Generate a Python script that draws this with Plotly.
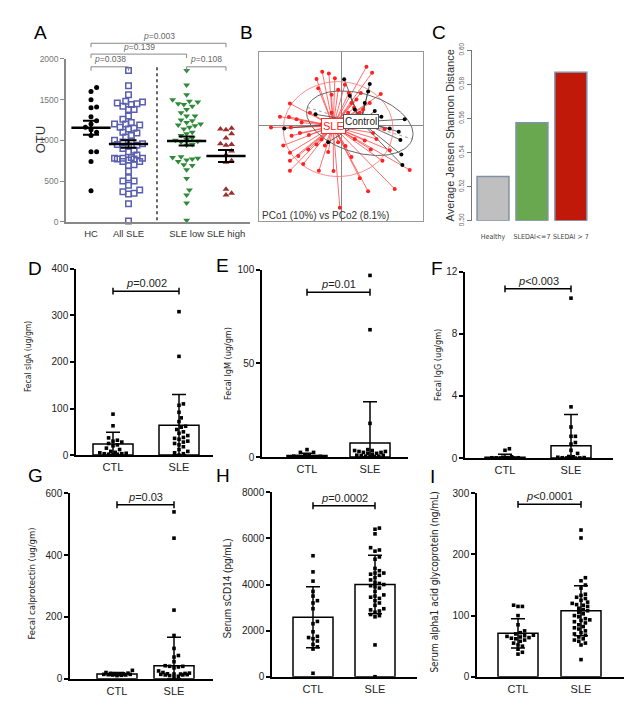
import numpy as np
import plotly.graph_objects as go

W, H = 636, 719
FONT = "Liberation Sans, Arial, Helvetica, sans-serif"
NARROW = "Liberation Sans Narrow, Arial Narrow, DejaVu Sans Condensed, sans-serif"

# ---------------- Panel A : OTU ----------------
a_labels = ["HC", "All SLE", "SLE low", "SLE high"]
a_hc = [1650, 1600, 1500, 1410, 1400, 1290, 1240, 1200, 1160, 1130, 1100, 1060, 860, 860, 740, 380]
a_all_sle = [1860, 1670, 1560, 1480, 1470, 1460, 1450, 1440, 1420, 1380, 1380, 1300, 1260, 1220,
             1200, 1200, 1190, 1160, 1150, 1140, 1100, 1090, 1060, 1040, 1000, 990, 980, 960, 950,
             940, 930, 900, 880, 860, 820, 790, 780, 780, 780, 770, 770, 760, 740, 740, 700, 690,
             620, 540, 500, 500, 450, 390, 370, 350, 340, 220, 10]
a_sle_low = [1860, 1680, 1560, 1500, 1480, 1470, 1450, 1440, 1420, 1380, 1340, 1300, 1300, 1250,
             1240, 1220, 1200, 1190, 1180, 1160, 1140, 1100, 1080, 1060, 1030, 1010, 1000, 990, 980,
             950, 940, 800, 790, 780, 770, 760, 740, 700, 690, 640, 530, 390, 330, 230, 20]
a_sle_high = [1150, 1140, 1130, 1080, 1030, 960, 950, 940, 870, 820, 750, 730, 400, 350, 330]
a_mean = [1155, 955, 992, 808]
a_sem = [85, 45, 55, 75]
a_p_pairs = [(0, 1), (2, 3), (0, 2), (0, 3)]
a_p_text = ["0.038", "0.108", "0.139", "0.003"]
a_p_level = [1904, 1904, 2060, 2193]

# ---------------- Panel B : PCoA ----------------
b_sle_pc1 = [0.075, 0.092, -0.058, -0.038, -0.075, -0.020, 0.118, -0.030, -0.070, -0.155, -0.185,
             -0.158, -0.135, -0.212, -0.152, -0.150, -0.125, -0.098, -0.155, -0.155, -0.130, -0.100,
             -0.075, -0.060, -0.115, -0.155, -0.068, -0.024, -0.005, 0.055, 0.080, 0.160, 0.123,
             0.145, 0.205, 0.088, 0.095, 0.130, 0.038, 0.030, 0.045, 0.020, 0.065, 0.085, -0.010,
             0.012, -0.040, -0.050, 0.040, 0.070, -0.095, -0.010, 0.022, 0.095, 0.010, 0.058,
             -0.030, -0.120, -0.175, 0.030, 0.105, -0.060, 0.055]
b_sle_pc2 = [0.178, 0.160, 0.163, 0.158, 0.141, 0.143, 0.095, 0.093, 0.113, 0.066, 0.026, 0.025,
             0.018, -0.007, -0.007, -0.032, -0.024, -0.030, -0.084, -0.109, -0.094, -0.074, -0.059,
             -0.044, -0.119, -0.139, -0.139, -0.140, -0.252, -0.162, -0.202, -0.195, -0.109, -0.077,
             -0.137, -0.074, -0.024, -0.012, 0.053, 0.068, 0.078, 0.038, 0.048, 0.068, -0.052,
             -0.064, -0.082, -0.062, -0.042, -0.047, 0.038, 0.108, 0.098, 0.013, 0.123, 0.098,
             0.038, 0.008, -0.062, -0.097, -0.042, 0.003, 0.038]
b_ctl_pc1 = [0.008, 0.025, 0.085, 0.080, 0.100, 0.120, 0.190, 0.145, 0.172, 0.177, 0.180, 0.183,
             -0.078, -0.172, -0.040, 0.040, 0.070]
b_ctl_pc2 = [0.140, 0.090, 0.126, 0.103, 0.043, 0.026, 0.018, -0.010, -0.020, -0.045, -0.090,
             -0.122, 0.033, -0.010, -0.052, 0.048, 0.068]
b_sle_centroid = (-0.025, -0.003)
b_ctl_centroid = (0.058, 0.010)
b_sle_ellipse = (-0.010, -0.012, 0.165, 0.145, 0.0)     # cx, cy, a, b, angle(deg)
b_ctl_ellipse = (0.055, 0.006, 0.165, 0.090, -17.0)
b_caption = "PCo1 (10%) vs PCo2 (8.1%)"

# ---------------- Panel C : JSD ----------------
c_labels = ["Healthy", "SLEDAI&lt;=7", "SLEDAI &gt; 7"]
c_values = [0.526, 0.5575, 0.587]

# ---------------- Panels D-I ----------------
grp_labels = ["CTL", "SLE"]
d_ctl = [88, 63, 37, 32, 30, 28, 25, 22, 20, 15, 12, 8, 6, 5, 4, 3, 3, 2, 2, 1]
d_sle = [308, 212, 110, 107, 92, 80, 72, 62, 60, 55, 50, 47, 42, 38, 36, 34, 30, 28, 25, 22, 18,
         12, 8, 5, 3, 0]
d_mean, d_sd = [24, 64], [25, 66]
e_ctl = [4, 2.5, 2.5, 1.2, 0.8, 0.5, 0.4, 0.3, 0.2, 0.2, 0.1, 0.1]
e_sle = [97, 68, 18, 4, 3.5, 3.5, 3, 3, 2.5, 2.5, 2, 2, 1.5, 1, 1, 0.8, 0.5, 0.5, 0.3, 0.2]
e_mean, e_sd = [0.8, 7.5], [1.3, 22]
f_ctl = [0.6, 0.5, 0.08, 0.05, 0.03, 0.02, 0.02, 0.01, 0.01, 0, 0, 0]
f_sle = [10.3, 3.3, 2.0, 1.4, 1.4, 1.0, 0.9, 0.5, 0.3, 0.1, 0.08, 0.05, 0.03, 0.02, 0.01, 0.01, 0, 0]
f_mean, f_sd = [0.05, 0.8], [0.2, 2.0]
g_ctl = [27, 20, 18, 17, 16, 16, 15, 14, 14, 13, 12, 12, 11, 10]
g_sle = [540, 455, 222, 140, 98, 75, 70, 55, 42, 40, 40, 38, 35, 25, 20, 18, 17, 16, 15, 15, 14,
         13, 12, 12, 10, 8, 5]
g_mean, g_sd = [15, 42], [5, 92]
h_ctl = [5250, 4550, 4150, 3700, 3500, 3300, 3200, 2950, 2400, 2300, 1950, 1750, 1700, 1650, 1550,
         1400, 1300, 1200, 150]
h_sle = [6450, 6400, 6200, 5600, 5500, 5450, 5200, 5100, 4700, 4600, 4500, 4500, 4450, 4400, 4300,
         4200, 4100, 4050, 4000, 3950, 3900, 3850, 3700, 3550, 3500, 3450, 3400, 3300, 3200, 3100,
         2950, 2900, 2850, 2800, 2700, 2650, 2600, 1380, 0]
h_mean, h_sd = [2580, 4000], [1320, 1270]
i_ctl = [117, 115, 115, 100, 85, 75, 72, 70, 68, 67, 66, 65, 64, 63, 62, 60, 58, 55, 52, 50, 45, 40, 37]
i_sle = [240, 227, 162, 157, 150, 145, 135, 133, 130, 128, 125, 122, 120, 118, 117, 115, 112, 110,
         108, 105, 103, 100, 98, 95, 93, 92, 90, 88, 85, 82, 80, 78, 75, 72, 70, 68, 65, 62, 60, 58,
         55, 52, 28]
i_mean, i_sd = [71, 108], [24, 41]
p_texts = {"D": "<i>p</i>=0.002", "E": "<i>p</i>=0.01", "F": "<i>p</i>&lt;0.003",
           "G": "<i>p</i>=0.03", "H": "<i>p</i>=0.0002", "I": "<i>p</i>&lt;0.0001"}
p_levels = {"D": 352, "E": 88, "F": 10.9, "G": 563, "H": 7420, "I": 282}
y_titles = {"D": "Fecal sIgA (ug/gm)", "E": "Fecal IgM (ug/gm)", "F": "Fecal IgG (ug/gm)",
            "G": "Fecal calprotectin (ug/gm)", "H": "Serum sCD14 (pg/mL)",
            "I": "Serum alpha1 acid glycoprotein (ng/mL)"}


# ---------------- helpers ----------------
def dom_x(x0, x1):
    return [x0 / W, x1 / W]


def dom_y(top, bot):
    return [1 - bot / H, 1 - top / H]


def swarm(vals, center, ppu_x, ppu_y, d, maxw):
    vals = np.asarray(vals, float)
    order = np.argsort(vals)
    placed = []
    out = np.zeros(len(vals))
    steps = [0.0]
    k = 1
    while k * d * 0.5 <= maxw:
        steps += [k * d * 0.5, -k * d * 0.5]
        k += 1
    for i in order:
        yp = vals[i] * ppu_y
        chosen, best, best_s = None, -1.0, 0.0
        for s in steps:
            mind = min([np.hypot(s - px, yp - py) for px, py in placed] or [1e9])
            if mind >= d * 0.98:
                chosen = s
                break
            if mind > best:
                best, best_s = mind, s
        if chosen is None:
            chosen = best_s
        placed.append((chosen, yp))
        out[i] = center + chosen / ppu_x
    return out


def ax(n):
    return ("x" if n == 1 else f"x{n}"), ("y" if n == 1 else f"y{n}")


def lkey(n):
    return ("xaxis" if n == 1 else f"xaxis{n}"), ("yaxis" if n == 1 else f"yaxis{n}")


def pnote(px, py, text, size, color, family=FONT, angle=0, xa="center", ya="middle"):
    return dict(x=px / W, y=1 - py / H, xref="paper", yref="paper", text=text, textangle=angle,
                showarrow=False, xanchor=xa, yanchor=ya,
                font=dict(size=size, color=color, family=family))


fig = go.Figure()
layout = {}
shapes = []
annots = []

# ================= Panel A =================
A_X0, A_X1, A_TOP, A_BOT = 66, 250, 52, 218
a_pos = [0, 1, 2.55, 3.6]
a_ppx = 37.5
a_c0 = 91
a_xr = [-(a_c0 - A_X0) / a_ppx, (A_X1 - a_c0) / a_ppx]
a_ppy = (A_BOT - A_TOP) / 2000.0
xa, ya = ax(1)
styles = [("circle", "black", 5, None), ("square-open", "#5a5fb0", 5.5, 1.5),
          ("triangle-down", "#2e8b3a", 6, None), ("triangle-up", "#9b2f2f", 6, None)]
for k, vals in enumerate([a_hc, a_all_sle, a_sle_low, a_sle_high]):
    sym, col, sz, lw = styles[k]
    xs = swarm(vals, a_pos[k], a_ppx, a_ppy, 5.6, 16)
    mk = dict(symbol=sym, color=col, size=sz)
    if lw:
        mk["line"] = dict(color=col, width=lw)
    fig.add_trace(go.Scatter(x=xs, y=vals, mode="markers", marker=mk, xaxis=xa, yaxis=ya,
                             cliponaxis=False, hoverinfo="y"))
fig.add_trace(go.Scatter(x=a_pos, y=a_mean, mode="markers", xaxis=xa, yaxis=ya, cliponaxis=False,
                         marker=dict(symbol="line-ew", size=28, color="black",
                                     line=dict(color="black", width=2.5)),
                         error_y=dict(type="data", array=a_sem, color="black", thickness=2, width=8)))
kx, ky = lkey(1)
layout[kx] = dict(domain=dom_x(A_X0, A_X1), range=a_xr, anchor=ya, tickvals=a_pos, ticktext=a_labels,
                  showline=True, linecolor="#888", linewidth=1.5, ticks="outside", ticklen=2,
                  tickcolor="rgba(0,0,0,0)", tickfont=dict(size=9.5, color="#333", family=FONT),
                  showgrid=False, zeroline=False, fixedrange=True)
layout[ky] = dict(domain=dom_y(A_TOP, A_BOT), range=[0, 2000], anchor=xa,
                  tickvals=[0, 500, 1000, 1500, 2000], showline=True, linecolor="#888", linewidth=1.5,
                  ticks="outside", ticklen=4, tickcolor="#888", tickwidth=1.2,
                  tickfont=dict(size=8.5, color="#777", family=FONT), showgrid=False, zeroline=False)
shapes.append(dict(type="line", xref=xa, yref=ya, x0=1.76, x1=1.76, y0=20, y1=1920,
                   line=dict(color="#333", width=1.5, dash="dot")))


def a_px_x(p):
    return a_c0 + p * a_ppx


def a_px_y(v):
    return A_BOT - v * a_ppy


for (i, j), txt, lev in zip(a_p_pairs, a_p_text, a_p_level):
    x0, x1, yy = a_px_x(a_pos[i]), a_px_x(a_pos[j]), a_px_y(lev)
    shapes.append(dict(type="path", xref="paper", yref="paper",
                       path=f"M{x0 / W},{1 - (yy + 4) / H} L{x0 / W},{1 - yy / H} "
                            f"L{x1 / W},{1 - yy / H} L{x1 / W},{1 - (yy + 4) / H}",
                       line=dict(color="#888", width=1)))
    annots.append(pnote((x0 + x1) / 2, yy - 0.5, f"<i>p</i>={txt}", 8.5, "#666", ya="bottom"))
annots.append(pnote(40, 135, "OTU", 13, "#333", angle=-90))

# ================= Panel B =================
xa, ya = ax(2)
B_X0, B_X1, B_TOP, B_BOT = 259, 423, 45, 217


def seg(px, py, c):
    xs, ys = [], []
    for x, y in zip(px, py):
        xs += [x, c[0], None]
        ys += [y, c[1], None]
    return xs, ys


def ellipse(p, n=160):
    cx, cy, a, b, ang = p
    t = np.linspace(0, 2 * np.pi, n)
    th = np.deg2rad(ang)
    return (cx + a * np.cos(th) * np.cos(t) - b * np.sin(th) * np.sin(t),
            cy + a * np.sin(th) * np.cos(t) + b * np.cos(th) * np.sin(t))


sx, sy = seg(b_sle_pc1, b_sle_pc2, b_sle_centroid)
fig.add_trace(go.Scatter(x=sx, y=sy, mode="lines", line=dict(color="#ff4a4a", width=0.8),
                         xaxis=xa, yaxis=ya, hoverinfo="skip"))
cx_, cy_ = seg(b_ctl_pc1, b_ctl_pc2, b_ctl_centroid)
fig.add_trace(go.Scatter(x=cx_, y=cy_, mode="lines", line=dict(color="#444", width=0.8),
                         xaxis=xa, yaxis=ya, hoverinfo="skip"))
ex, ey = ellipse(b_sle_ellipse)
fig.add_trace(go.Scatter(x=ex, y=ey, mode="lines", line=dict(color="#ff7070", width=0.8),
                         xaxis=xa, yaxis=ya, hoverinfo="skip"))
ex, ey = ellipse(b_ctl_ellipse)
fig.add_trace(go.Scatter(x=ex, y=ey, mode="lines", line=dict(color="#666", width=1),
                         xaxis=xa, yaxis=ya, hoverinfo="skip"))
cxe, cye, ae, be, ange = b_ctl_ellipse
th = np.deg2rad(ange)
fig.add_trace(go.Scatter(x=[cxe - ae * np.cos(th), cxe + ae * np.cos(th)],
                         y=[cye - ae * np.sin(th), cye + ae * np.sin(th)], mode="lines",
                         line=dict(color="#888", width=0.8, dash="dot"), xaxis=xa, yaxis=ya,
                         hoverinfo="skip"))
fig.add_trace(go.Scatter(x=b_sle_pc1, y=b_sle_pc2, mode="markers",
                         marker=dict(color="#ff2020", size=4), xaxis=xa, yaxis=ya))
fig.add_trace(go.Scatter(x=b_ctl_pc1, y=b_ctl_pc2, mode="markers",
                         marker=dict(color="black", size=4), xaxis=xa, yaxis=ya))
kx, ky = lkey(2)
layout[kx] = dict(domain=dom_x(B_X0, B_X1), range=[-0.248, 0.245], anchor=ya, showline=True,
                  mirror=True, linecolor="#999", linewidth=1, showticklabels=False, ticks="",
                  showgrid=False, zeroline=True, zerolinecolor="#888", zerolinewidth=1)
layout[ky] = dict(domain=dom_y(B_TOP, B_BOT), range=[-0.292, 0.223], anchor=xa, showline=True,
                  mirror=True, linecolor="#999", linewidth=1, showticklabels=False, ticks="",
                  showgrid=False, zeroline=True, zerolinecolor="#888", zerolinewidth=1)
annots.append(dict(x=b_sle_centroid[0], y=b_sle_centroid[1], xref=xa, yref=ya, text="SLE",
                   showarrow=False, bgcolor="white", bordercolor="#ff3030", borderwidth=1,
                   borderpad=1, xanchor="center", yanchor="middle",
                   font=dict(size=11, color="#ff2020", family=FONT)))
annots.append(dict(x=b_ctl_centroid[0], y=b_ctl_centroid[1], xref=xa, yref=ya, text="Control",
                   showarrow=False, bgcolor="white", bordercolor="#555", borderwidth=1,
                   borderpad=1, xanchor="center", yanchor="middle",
                   font=dict(size=10, color="#222", family=FONT)))
annots.append(pnote(260, 212, b_caption, 10, "#333", xa="left"))

# ================= Panel C =================
xa, ya = ax(3)
C_X0, C_X1, C_TOP, C_BOT = 472, 595, 43, 217
c_pos = [0, 1, 2]
fig.add_trace(go.Bar(x=c_pos, y=[v - 0.5 for v in c_values], base=0.5, width=0.82,
                     marker=dict(color=["#bfbfbf", "#6aa84f", "#c0190a"],
                                 line=dict(color="#7f92a8", width=1.5)),
                     xaxis=xa, yaxis=ya))
kx, ky = lkey(3)
layout[kx] = dict(domain=dom_x(C_X0, C_X1), range=[-0.54, 2.62], anchor=ya, tickvals=c_pos,
                  ticktext=c_labels, showline=False, ticks="outside", ticklen=9,
                  tickcolor="rgba(0,0,0,0)", tickfont=dict(size=7, color="#444", family=NARROW),
                  showgrid=False, zeroline=False)
layout[ky] = dict(domain=dom_y(C_TOP, C_BOT), range=[0.5, 0.6], anchor=xa,
                  tickvals=[0.50, 0.52, 0.54, 0.56, 0.58, 0.60], tickformat=".2f", tickangle=-90,
                  showline=True, linecolor="#777", linewidth=1, ticks="outside", ticklen=4,
                  tickcolor="#777", tickfont=dict(size=6.5, color="#666", family=FONT),
                  showgrid=False, zeroline=False)
annots.append(pnote(450, 130, "Average Jensen Shannon Distance", 11, "#333", angle=-90))

# ================= Panels D-I =================
geom = {
    "D": dict(n=4, x=(76, 213), y=(266, 456), c=113, sp=66, ymax=400, dt=100, tt=(28, 355, NARROW, 8.5)),
    "E": dict(n=5, x=(262, 408), y=(267, 458), c=307, sp=63, ymax=100, dt=50, tt=(228, 362, NARROW, 9)),
    "F": dict(n=6, x=(465, 613), y=(269, 459), c=505, sp=66, ymax=12, dt=4, tt=(438, 364, NARROW, 9)),
    "G": dict(n=7, x=(70, 213), y=(495, 684), c=117, sp=57, ymax=600, dt=200, tt=(32, 587, NARROW, 9.5)),
    "H": dict(n=8, x=(272, 417), y=(494, 682), c=313, sp=62, ymax=8000, dt=2000, tt=(227, 592, FONT, 10)),
    "I": dict(n=9, x=(477, 624), y=(495, 682), c=518, sp=63, ymax=300, dt=100, tt=(435, 586, NARROW, 10)),
}
bar_data = {"D": (d_ctl, d_sle, d_mean, d_sd), "E": (e_ctl, e_sle, e_mean, e_sd),
            "F": (f_ctl, f_sle, f_mean, f_sd), "G": (g_ctl, g_sle, g_mean, g_sd),
            "H": (h_ctl, h_sle, h_mean, h_sd), "I": (i_ctl, i_sle, i_mean, i_sd)}

for key, g in geom.items():
    n = g["n"]
    xa, ya = ax(n)
    ctl, sle, mean, sd = bar_data[key]
    x0, x1 = g["x"]
    top, bot = g["y"]
    ppx = g["sp"]
    ppy = (bot - top) / g["ymax"]
    fig.add_trace(go.Bar(x=[0, 1], y=mean, width=40 / ppx,
                         marker=dict(color="white", line=dict(color="black", width=1.5)),
                         xaxis=xa, yaxis=ya))
    for k, vals in enumerate([ctl, sle]):
        xs = swarm(vals, k, ppx, ppy, 4.4, 17)
        fig.add_trace(go.Scatter(x=xs, y=vals, mode="markers", xaxis=xa, yaxis=ya, cliponaxis=False,
                                 marker=dict(symbol="square", size=3.6, color="black")))
    fig.add_trace(go.Scatter(x=[0, 1], y=mean, mode="markers", xaxis=xa, yaxis=ya,
                             marker=dict(size=1, opacity=0), cliponaxis=False,
                             error_y=dict(type="data", symmetric=False, array=sd,
                                          arrayminus=[min(s, m) for s, m in zip(sd, mean)],
                                          color="black", thickness=1.5, width=7)))
    kx, ky = lkey(n)
    layout[kx] = dict(domain=dom_x(x0, x1), range=[-(g["c"] - x0) / ppx, 1 + (x1 - g["c"] - ppx) / ppx],
                      anchor=ya, tickvals=[0, 1], ticktext=grp_labels, showline=True,
                      linecolor="black", linewidth=1.5, ticks="outside", ticklen=1,
                      tickcolor="rgba(0,0,0,0)", tickfont=dict(size=11, color="#222", family=FONT),
                      showgrid=False, zeroline=False)
    layout[ky] = dict(domain=dom_y(top, bot), range=[0, g["ymax"]], anchor=xa,
                      tickvals=list(np.arange(0, g["ymax"] + g["dt"] / 2, g["dt"])),
                      showline=True, linecolor="black", linewidth=1.5, ticks="outside", ticklen=4,
                      tickwidth=1.5, tickcolor="black", tickfont=dict(size=10, color="#222", family=FONT),
                      showgrid=False, zeroline=False)
    lev = p_levels[key]
    cap = 3.5 / ppy
    for xx in (0, 1):
        shapes.append(dict(type="line", xref=xa, yref=ya, x0=xx, x1=xx, y0=lev - cap, y1=lev + cap,
                           line=dict(color="black", width=1.5)))
    shapes.append(dict(type="line", xref=xa, yref=ya, x0=0, x1=1, y0=lev, y1=lev,
                       line=dict(color="black", width=1.5)))
    annots.append(dict(x=0.5, y=lev, xref=xa, yref=ya, text=p_texts[key], showarrow=False,
                       xanchor="center", yanchor="bottom", yshift=0,
                       font=dict(size=11, color="#222", family=FONT)))
    tx, ty, tf, ts = g["tt"]
    annots.append(pnote(tx, ty, y_titles[key], ts, "#222", family=tf, angle=-90))

# ---------------- panel letters ----------------
letters = {"A": (40, 25), "B": (246, 25), "C": (439, 25), "D": (35, 266), "E": (222, 263),
           "F": (437, 266), "G": (35, 477), "H": (223, 477), "I": (432, 478)}
for t, (px, py) in letters.items():
    annots.append(pnote(px, py, t, 19, "black"))

fig.update_layout(width=W, height=H, margin=dict(l=0, r=0, t=0, b=0), paper_bgcolor="white",
                  plot_bgcolor="rgba(0,0,0,0)", showlegend=False, shapes=shapes, annotations=annots,
                  font=dict(family=FONT), **layout)
fig.write_html("out.html", config={"displayModeBar": False},
               post_script="document.body.style.margin='0px';document.body.style.padding='0px';")
